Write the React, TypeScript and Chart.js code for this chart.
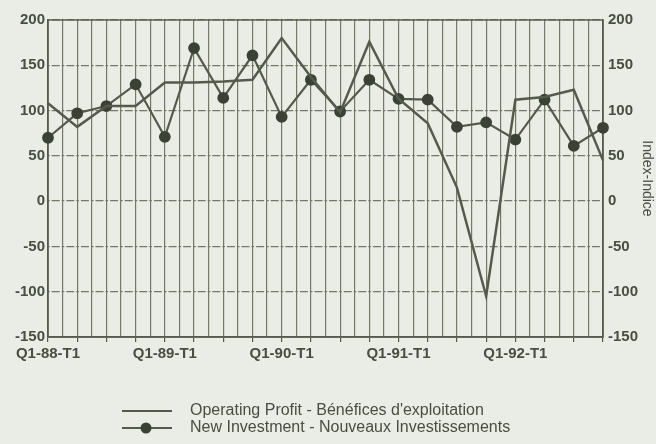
import React, { useEffect, useRef } from "react";
import { Chart, registerables } from "chart.js";

Chart.register(...registerables);

const quarters = [
  "Q1-88", "Q2-88", "Q3-88", "Q4-88",
  "Q1-89", "Q2-89", "Q3-89", "Q4-89",
  "Q1-90", "Q2-90", "Q3-90", "Q4-90",
  "Q1-91", "Q2-91", "Q3-91", "Q4-91",
  "Q1-92", "Q2-92", "Q3-92", "Q4-92",
];
const xTickLabels = ["Q1-88-T1", "Q1-89-T1", "Q1-90-T1", "Q1-91-T1", "Q1-92-T1"];
const operatingProfit = [108, 82, 105, 105, 131, 131, 132, 134, 180, 137, 98, 176, 113, 86, 15, -105, 112, 115, 123, 45];
const newInvestment = [70, 97, 105, 129, 71, 169, 114, 161, 93, 134, 99, 134, 113, 112, 82, 87, 68, 112, 61, 81];
const seriesLabels = [
  "Operating Profit - Bénéfices d'exploitation",
  "New Investment - Nouveaux Investissements",
];
const yMin = -150;
const yMax = 200;
const yStep = 50;
const axisTitle = "Index-Indice";

const BG = "#eaede5";
const INK = "#484e42";
const LINE = "#555b4c";
const GRID = "#737869";
const FONT = "'Liberation Sans', Arial, sans-serif";

const framePlugin = {
  id: "frame",
  beforeDatasetsDraw(chart: any) {
    const { ctx, chartArea } = chart;
    ctx.save();
    ctx.strokeStyle = LINE;
    ctx.lineWidth = 1.4;
    ctx.setLineDash([]);
    ctx.strokeRect(chartArea.left, chartArea.top, chartArea.right - chartArea.left, chartArea.bottom - chartArea.top);
    ctx.restore();
  },
};

const legendPlugin = {
  id: "customLegend",
  afterDraw(chart: any) {
    const ctx = chart.ctx;
    const ds = chart.data.datasets;
    const rowsY = [411, 428];
    const x0 = 122;
    const x1 = 172;
    const tx = 190;
    ctx.save();
    ctx.font = `16px ${FONT}`;
    ctx.textBaseline = "middle";
    ctx.textAlign = "left";
    ds.forEach((d: any, i: number) => {
      const y = rowsY[i];
      ctx.strokeStyle = d.borderColor;
      ctx.lineWidth = 2;
      ctx.beginPath();
      ctx.moveTo(x0, y);
      ctx.lineTo(x1, y);
      ctx.stroke();
      if (d.pointRadius > 0) {
        ctx.fillStyle = d.pointBackgroundColor;
        ctx.beginPath();
        ctx.arc((x0 + x1) / 2 - 1, y, 5.5, 0, Math.PI * 2);
        ctx.fill();
      }
      ctx.fillStyle = INK;
      ctx.fillText(d.label, tx, y);
    });
    ctx.restore();
  },
};

export default function App() {
  const canvasRef = useRef<HTMLCanvasElement | null>(null);

  useEffect(() => {
    document.body.style.margin = "0";
    const canvas = canvasRef.current;
    if (!canvas) return;
    const chart = new Chart(canvas, {
      type: "line",
      data: {
        labels: quarters,
        datasets: [
          {
            label: seriesLabels[0],
            data: operatingProfit.map((v, i) => ({ x: i, y: v })),
            borderColor: LINE,
            borderWidth: 2.5,
            pointRadius: 0,
            pointHoverRadius: 0,
            tension: 0,
            fill: false,
            clip: false,
          },
          {
            label: seriesLabels[1],
            data: newInvestment.map((v, i) => ({ x: i, y: v })),
            borderColor: LINE,
            backgroundColor: "#3c4136",
            pointBackgroundColor: "#3c4136",
            pointBorderColor: "#3c4136",
            borderWidth: 2.2,
            pointRadius: 4.8,
            tension: 0,
            fill: false,
            clip: false,
          },
        ] as any,
      },
      options: {
        animation: false,
        responsive: true,
        maintainAspectRatio: false,
        layout: { padding: { top: 20, left: 0, right: 0, bottom: 77 } },
        plugins: {
          legend: { display: false },
          tooltip: { enabled: false },
        },
        scales: {
          x: {
            type: "linear",
            min: 0,
            max: quarters.length - 1,
            afterFit: (s: any) => {
              s.height = 30;
            },
            grid: {
              color: GRID,
              lineWidth: 1.2,
              drawTicks: true,
              tickLength: 5,
              tickWidth: 1.2,
              tickColor: (c: any) => (Number.isInteger(c.tick?.value) ? LINE : "rgba(0,0,0,0)"),
            },
            border: { display: true, color: LINE, width: 1.4 },
            ticks: {
              stepSize: 0.5,
              maxTicksLimit: 200,
              autoSkip: false,
              maxRotation: 0,
              minRotation: 0,
              padding: 3,
              color: INK,
              font: { family: FONT, size: 15, weight: "bold" },
              callback: (value: any) => {
                const v = Number(value);
                if (Number.isInteger(v) && v % 4 === 0) return xTickLabels[v / 4];
                return "";
              },
            },
          },
          y: {
            type: "linear",
            position: "left",
            min: yMin,
            max: yMax,
            afterFit: (s: any) => {
              s.width = 48;
            },
            grid: { color: GRID, lineWidth: 1.3, drawTicks: false },
            border: { display: true, color: LINE, width: 1.4, dash: [8, 2, 2.6, 2], dashOffset: 11.3 },
            ticks: {
              stepSize: yStep,
              padding: 3,
              color: INK,
              font: { family: FONT, size: 15, weight: "bold" },
            },
          },
          y2: {
            type: "linear",
            position: "right",
            min: yMin,
            max: yMax,
            afterFit: (s: any) => {
              s.width = 53;
            },
            grid: { drawOnChartArea: false, drawTicks: false },
            border: { display: true, color: LINE, width: 1.4 },
            title: {
              display: true,
              text: axisTitle,
              color: INK,
              font: { family: FONT, size: 14 },
              padding: 1,
            },
            ticks: {
              stepSize: yStep,
              padding: 5,
              color: INK,
              font: { family: FONT, size: 15, weight: "bold" },
            },
          },
        },
      } as any,
      plugins: [framePlugin, legendPlugin],
    });
    return () => chart.destroy();
  }, []);

  return (
    <div style={{ position: "fixed", left: 0, top: 0, width: 656, height: 444, background: BG }}>
      <canvas ref={canvasRef} />
    </div>
  );
}
